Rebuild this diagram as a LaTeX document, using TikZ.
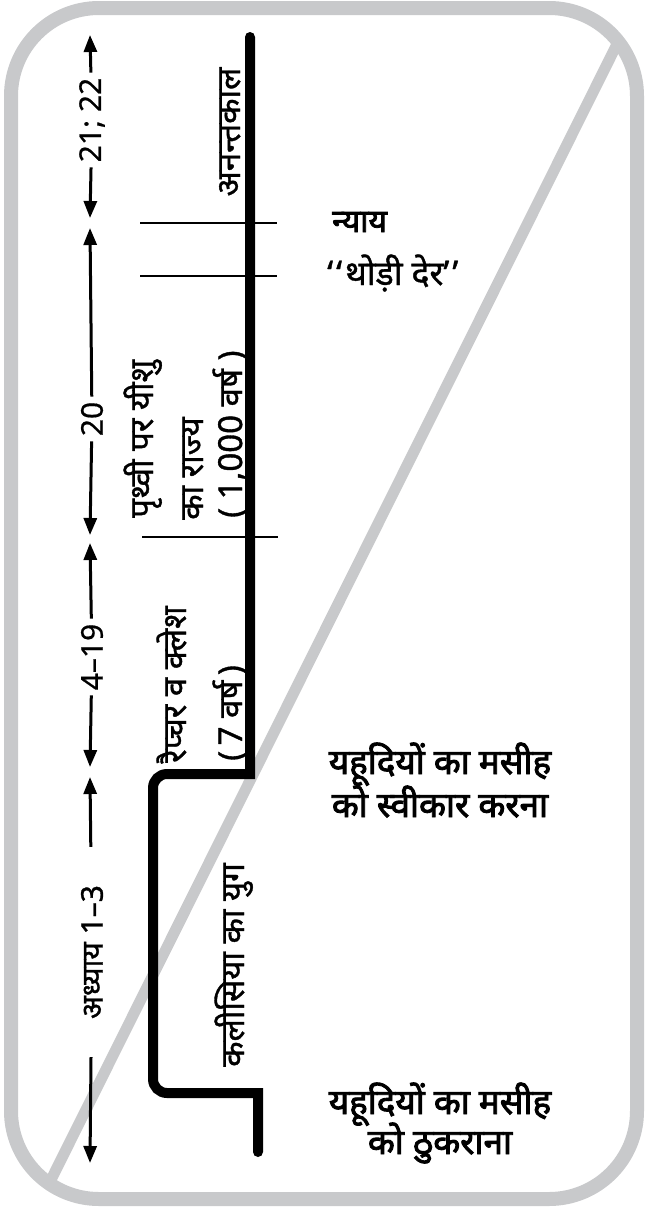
\documentclass[tikz,border=0pt]{standalone}
\usepackage{fontspec}
\setmainfont{Noto Sans}
\newfontfamily\hindi[Script=Devanagari,FakeBold=1.1]{Noto Sans}
\newfontfamily\hindibold[Script=Devanagari,FakeBold=2.6]{Noto Sans}
\newfontfamily\digits[FakeBold=0.6]{Noto Sans}
\usetikzlibrary{arrows.meta}
\definecolor{framegray}{RGB}{200,201,203}
\begin{document}
\begin{tikzpicture}[x=1pt,y=-1pt,
	chap/.style={rotate=90,font=\hindi\fontsize{30}{34}\selectfont,inner sep=5pt},
	era/.style={rotate=90,font=\hindi\fontsize{33}{38}\selectfont,inner sep=0pt},
	event/.style={font=\hindibold\fontsize{35}{40}\selectfont,inner sep=0pt},
	span/.style={-{Triangle[length=17pt,width=13pt]},line width=3pt},
	tick/.style={line width=2pt},
	timeline/.style={line width=10pt,line cap=round}]
	\useasboundingbox (0,0) rectangle (648,1208);

	\begin{scope}
		\clip[rounded corners=88pt] (11,8) rectangle (637,1199);
		\draw[framegray,line width=11pt] (639,0) -- (21,1240);
	\end{scope}
	\draw[framegray,line width=14pt,rounded corners=88pt] (11,8) rectangle (637,1199);

	\draw[tick] (140,223) -- (277,223);
	\draw[tick] (140,276) -- (277,276);
	\draw[tick] (142,537) -- (278,537);
	\draw[timeline] (250,37) -- (250,774) [rounded corners=14pt] -- (153,774) -- (153,1093) [sharp corners] -- (258,1093) -- (258,1152);

	\node[era,anchor=base] (e1) at (240,132) {अनन्तकाल};
	\node[era,anchor=base west] (e2) at (153,518) {पृथ्वी पर यीशु};
	\node[era,anchor=base west] (e3) at (203,520) {का राज्य};
	\node[era,anchor=base west] (e4) at (242,518) {( 1,000 वर्ष )};
	\node[era,anchor=base west] (e5) at (186,763) {रैप्चर व क्लेश};
	\node[era,anchor=base west] (e6) at (242,761) {(\,7 वर्ष\,)};
	\node[era,anchor=base west] (e7) at (244,1067) {कलीसिया का युग};

	\node[event,font=\hindibold\fontsize{32}{36}\selectfont,anchor=base west] (r1) at (332,232) {न्याय};
	\node[event,font=\hindi\fontsize{34}{38}\selectfont,anchor=base west] (r2) at (327,285) {‘\kern3pt‘\kern3pt थोड़ी देर’\kern3pt’};
	\node[event,anchor=base] (r3) at (440,774) {यहूदियों का मसीह};
	\node[event,anchor=base] (r4) at (440,817) {को स्वीकार करना};
	\node[event,anchor=base] (r5) at (440,1114) {यहूदियों का मसीह};
	\node[event,anchor=base] (r6) at (440,1154) {को ठुकराना};

	\coordinate (a0) at (90,35);
	\coordinate (a1) at (90,218);
	\coordinate (a2) at (90,228);
	\coordinate (a3) at (90,535);
	\coordinate (a4) at (90,543);
	\coordinate (a5) at (90,767);
	\coordinate (a6) at (90,777);
	\coordinate (a7) at (90,1163);

	\node[chap,font=\digits\fontsize{30}{34}\selectfont] (s1) at (92,120) {21; 22};
	\node[chap,font=\digits\fontsize{30}{34}\selectfont] (s2) at (92,419) {20};
	\node[chap,font=\digits\fontsize{30}{34}\selectfont] (s3) at (92,657) {4–19};
	\node[chap,inner xsep=38pt] (s4) at (92,952) {अध्याय 1–3};

	\draw[span] (s1) -- (a0);
	\draw[span] (s1) -- (a1);
	\draw[span] (s2) -- (a2);
	\draw[span] (s2) -- (a3);
	\draw[span] (s3) -- (a4);
	\draw[span] (s3) -- (a5);
	\draw[span] (s4) -- (a6);
	\draw[span] (s4) -- (a7);
\end{tikzpicture}
\end{document}
